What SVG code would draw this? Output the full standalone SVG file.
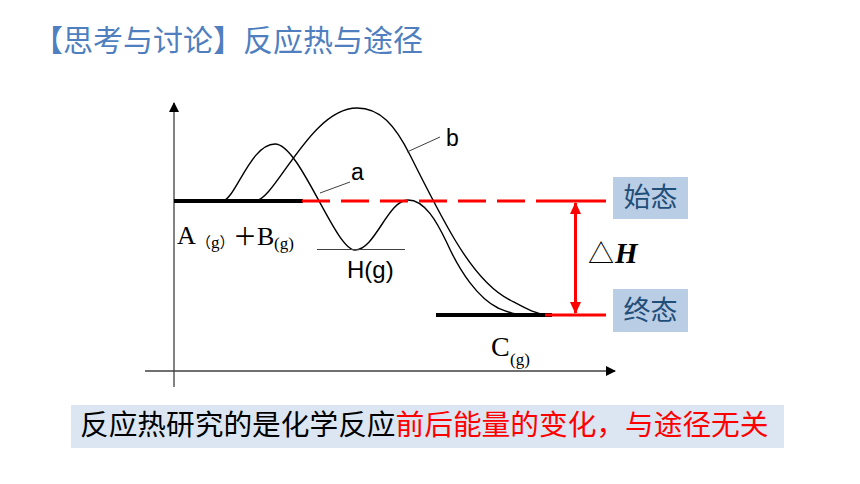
<svg xmlns="http://www.w3.org/2000/svg" width="860" height="484" viewBox="0 0 860 484">
<style>
.cjk{font-family:"Noto Sans CJK SC","Noto Sans",sans-serif;}
.ser{font-family:"Liberation Serif","Noto Sans CJK SC",serif;fill:#000;}
.sans{font-family:"Liberation Sans","Noto Sans",sans-serif;fill:#000;}
.axis{stroke:#404040;stroke-width:1.3;fill:none;}
.curve{stroke:#000;stroke-width:1.4;fill:none;}
.lead{stroke:#404040;stroke-width:1;fill:none;}
.lvl{stroke:#000;stroke-width:4;}
.red{stroke:#FF0000;stroke-width:3;fill:none;}
.state{fill:#B9CDE5;}
.stateText{fill:#1F4E79;font-size:27px;}
</style>
<defs>
<marker id="ax" markerWidth="10" markerHeight="10" refX="9" refY="5" orient="auto" markerUnits="userSpaceOnUse">
<path d="M0,0 L10,5 L0,10 Z" fill="#000"/>
</marker>
<marker id="rh" markerWidth="12" markerHeight="12" refX="11" refY="6" orient="auto-start-reverse" markerUnits="userSpaceOnUse">
<path d="M0,0.5 L12,6 L0,11.5 Z" fill="#FF0000"/>
</marker>
</defs>
<rect width="860" height="484" fill="#fff"/>

<g id="title">
<text x="33" y="51" class="cjk" font-size="30" fill="#4F7FBF">【思考与讨论】反应热与途径</text>
</g>

<g id="axes">
<line x1="174" y1="387" x2="174" y2="103" class="axis" marker-end="url(#ax)"/>
<line x1="145" y1="371" x2="615" y2="371" class="axis" marker-end="url(#ax)"/>
</g>

<g id="levels">
<line x1="174" y1="201" x2="303" y2="201" class="lvl"/>
<line x1="436" y1="315" x2="552" y2="315" class="lvl"/>
</g>

<g id="connectors">
<path id="curve-a" class="curve" d="M222,201 C235,201 250,144 275,144 C300,144 335,250 355,250 C375,250 388,200 408,200 C425,200 437,222 447,243 C460,272 478,298 498,308 C508,312 515,315 525,315"/>
<path id="curve-b" class="curve" d="M255,201 C275,201 310,108 357,108 C380,108 395,125 410,155 C425,185 440,215 455,240 C470,265 490,290 510,300 C525,308 535,314 548,315"/>
<line class="lead" x1="320" y1="193" x2="350" y2="182"/>
<line class="lead" x1="407" y1="152" x2="440" y2="137"/>
<line class="lead" x1="317" y1="249.5" x2="405" y2="249.5"/>
<line class="red" x1="302" y1="201" x2="538" y2="201" stroke-dasharray="28 11"/>
<line class="red" x1="538" y1="201" x2="606" y2="201"/>
<line class="red" x1="545" y1="315" x2="606" y2="315"/>
<line class="red" x1="575.5" y1="203" x2="575.5" y2="313" stroke-width="2.5" marker-start="url(#rh)" marker-end="url(#rh)"/>
</g>

<g id="labels">
<text x="351" y="180" class="sans" font-size="23">a</text>
<text x="446" y="146" class="sans" font-size="23">b</text>
<text x="347" y="278" class="sans" font-size="24">H(g)</text>
<text x="177" y="244" class="ser" font-size="26">A</text>
<text x="196" y="248" class="cjk" font-size="15" fill="#000">（<tspan font-family="Liberation Serif,serif" font-size="17">g</tspan>）</text>
<text x="233" y="245" class="cjk" font-size="24" fill="#000">＋</text>
<text x="257" y="245" class="ser" font-size="26">B</text>
<text x="274" y="249" class="ser" font-size="17">(g)</text>
<text x="491" y="356" class="ser" font-size="28">C</text>
<text x="510" y="365" class="ser" font-size="17">(g)</text>
<text x="588" y="263" class="cjk" font-size="26" fill="#000">△</text>
<text x="615" y="263" font-family="Liberation Serif,serif" font-weight="bold" font-style="italic" font-size="29" fill="#000">H</text>
</g>

<g id="node-start">
<rect x="613" y="177" width="75" height="42" class="state"/>
<text x="650.5" y="207" text-anchor="middle" class="cjk stateText">始态</text>
</g>
<g id="node-end">
<rect x="613" y="289" width="75" height="43" class="state"/>
<text x="650.5" y="320" text-anchor="middle" class="cjk stateText">终态</text>
</g>

<g id="conclusion">
<rect x="71" y="405" width="713" height="43" fill="#DCE6F2"/>
<text x="80" y="435" class="cjk" font-size="28.7" fill="#000">反应热研究的是化学反应<tspan fill="#FF0000">前后能量的变化，与途径无关</tspan></text>
</g>
</svg>
